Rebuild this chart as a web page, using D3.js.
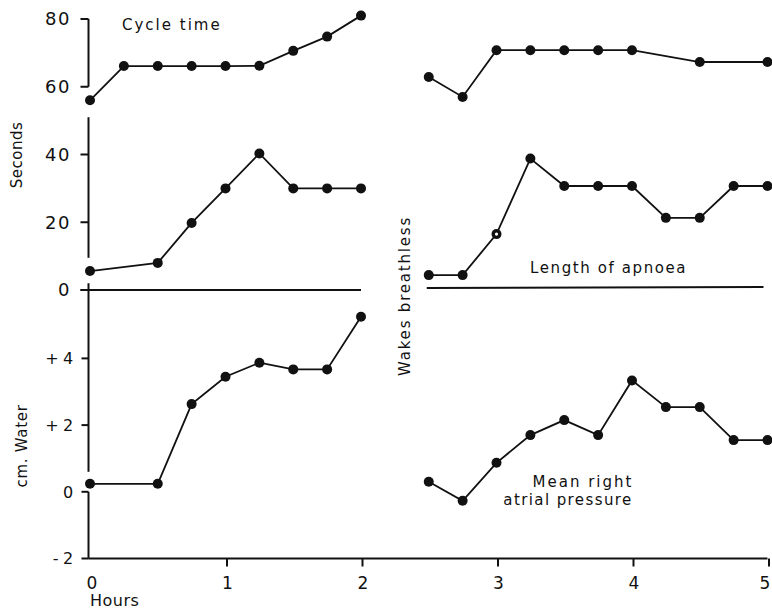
<!DOCTYPE html>
<html>
<head>
<meta charset="utf-8">
<script src="https://cdn.jsdelivr.net/npm/d3@7"></script>
<style>
  body { margin: 0; background: #fff; }
  text { font-family: "DejaVu Sans", sans-serif; fill: #111; }
</style>
</head>
<body>
<div id="chart"></div>
<script>
// hours (quarter-hour readings)
const hoursLeft = [0, 0.25, 0.5, 0.75, 1, 1.25, 1.5, 1.75, 2]
const hoursRight = [2.5, 2.75, 3, 3.25, 3.5, 3.75, 4, 4.25, 4.5, 4.75, 5]

// cycle time, seconds
const cycleLeftHours = hoursLeft
const cycleLeft = [56, 66.1, 66.1, 66.1, 66.1, 66.2, 70.6, 74.8, 81]
const cycleRightHours = [2.5, 2.75, 3, 3.25, 3.5, 3.75, 4, 4.5, 5]
const cycleRight = [62.9, 57, 70.8, 70.8, 70.8, 70.8, 70.8, 67.3, 67.3]

// length of apnoea, seconds
const apnoeaLeftHours = [0, 0.5, 0.75, 1, 1.25, 1.5, 1.75, 2]
const apnoeaLeft = [5.6, 8, 19.8, 30, 40.3, 30, 30, 30]
const apnoeaRight = [4.4, 4.4, 16.5, 38.8, 30.7, 30.7, 30.7, 21.3, 21.3, 30.7, 30.7]

// mean right atrial pressure, cm water
const pressureLeftHours = [0, 0.5, 0.75, 1, 1.25, 1.5, 1.75, 2]
const pressureLeft = [0.24, 0.24, 2.63, 3.45, 3.87, 3.67, 3.67, 5.25]
const pressureRight = [0.3, -0.27, 0.87, 1.7, 2.15, 1.7, 3.34, 2.54, 2.54, 1.55, 1.55]

const secTicks = [0, 20, 40, 60, 80]
const cmTicks = [-2, 0, 2, 4]
const cmTickLabels = ["- 2", "0", "+ 2", "+ 4"]
const hourTicks = [0, 1, 2, 3, 4, 5]

let width = 772
let height = 612

let svg = d3.select("#chart")
            .append("svg")
                .attr("width", width)
                .attr("height", height)

let x = d3.scaleLinear().domain([0, 5]).range([90, 767.5])
let ySec = d3.scaleLinear().domain([0, 80]).range([290, 19])
let yCm = d3.scaleLinear().domain([-2, 4]).range([558.5, 358.4])

const ax = x(0) - 1.5
const ink = "#111"

function line(g, x1, y1, x2, y2, w) {
    g.append("line")
        .attr("x1", x1).attr("y1", y1)
        .attr("x2", x2).attr("y2", y2)
        .attr("stroke", ink)
        .attr("stroke-width", w || 2)
}

let axes = svg.append("g")

// seconds axis, drawn in broken segments as in the original
line(axes, ax, ySec(80), ax, ySec(60))
line(axes, ax, ySec(51), ax, ySec(9.5))
line(axes, ax, ySec(2), ax, yCm(0.6))
line(axes, ax, yCm(0), ax, yCm(-2))
secTicks.forEach(v => line(axes, ax - 8, ySec(v), ax, ySec(v)))
cmTicks.forEach(v => line(axes, ax - 7, yCm(v), ax, yCm(v)))

// zero lines for length of apnoea
line(axes, ax - 8, ySec(0), x(2), ySec(0))
line(axes, x(2.5) - 2, ySec(0.6), x(5) - 4, ySec(0.9))

// hours axis
line(axes, ax, yCm(-2), x(5), yCm(-2))
hourTicks.slice(1).forEach(h => line(axes, x(h) + 1.5, yCm(-2), x(h) + 1.5, yCm(-2) + 8))

// tick labels
axes.selectAll(".sec")
    .data(secTicks)
    .enter()
    .append("text")
        .attr("x", 71)
        .attr("y", d => ySec(d))
        .attr("dy", "0.36em")
        .attr("text-anchor", "end")
        .attr("font-size", "18px")
        .attr("letter-spacing", "1.5px")
        .text(d => d)

axes.selectAll(".cm")
    .data(cmTicks)
    .enter()
    .append("text")
        .attr("x", 73)
        .attr("y", d => yCm(d))
        .attr("dy", "0.36em")
        .attr("text-anchor", "end")
        .attr("font-size", "16px")
        .attr("letter-spacing", "-0.3px")
        .text((d, i) => cmTickLabels[i])

axes.selectAll(".hr")
    .data(hourTicks)
    .enter()
    .append("text")
        .attr("x", d => Math.min(x(d) + 2, 765))
        .attr("y", 583)
        .attr("dy", "0.36em")
        .attr("text-anchor", "middle")
        .attr("font-size", "17px")
        .text(d => d)

// axis titles and labels
svg.append("text")
    .attr("transform", "translate(17,155) rotate(-90)")
    .attr("text-anchor", "middle")
    .attr("dy", "0.36em")
    .attr("font-size", "15px")
    .attr("letter-spacing", "0.5px")
    .text("Seconds")

svg.append("text")
    .attr("transform", "translate(22,446) rotate(-90)")
    .attr("text-anchor", "middle")
    .attr("dy", "0.36em")
    .attr("font-size", "15px")
    .attr("letter-spacing", "0.7px")
    .text("cm. Water")

svg.append("text")
    .attr("transform", "translate(405,296) rotate(-90)")
    .attr("text-anchor", "middle")
    .attr("dy", "0.36em")
    .attr("font-size", "15px")
    .attr("letter-spacing", "1.8px")
    .text("Wakes breathless")

svg.append("text")
    .attr("x", 90).attr("y", 600).attr("dy", "0.36em")
    .attr("font-size", "16px")
    .attr("letter-spacing", "0.5px")
    .text("Hours")

svg.append("text")
    .attr("x", 122).attr("y", 25).attr("dy", "0.36em")
    .attr("font-size", "15px")
    .attr("letter-spacing", "2px")
    .text("Cycle time")

svg.append("text")
    .attr("x", 530).attr("y", 268).attr("dy", "0.36em")
    .attr("font-size", "15px")
    .attr("letter-spacing", "1.6px")
    .text("Length of apnoea")

svg.append("text")
    .attr("x", 583).attr("y", 482).attr("dy", "0.36em")
    .attr("text-anchor", "middle")
    .attr("font-size", "15px")
    .attr("letter-spacing", "2px")
    .text("Mean right")

svg.append("text")
    .attr("x", 568).attr("y", 500).attr("dy", "0.36em")
    .attr("text-anchor", "middle")
    .attr("font-size", "15px")
    .attr("letter-spacing", "1.4px")
    .text("atrial pressure")

// series
function series(hours, values, y, hollow) {
    let pts = hours.map((h, i) => [h, values[i]])
    let path = d3.line().x(d => x(d[0])).y(d => y(d[1]))
    svg.append("path")
        .attr("d", path(pts))
        .attr("fill", "none")
        .attr("stroke", ink)
        .attr("stroke-width", 1.8)
    svg.append("g")
        .selectAll("circle")
        .data(pts)
        .enter()
        .append("circle")
            .attr("cx", d => x(d[0]))
            .attr("cy", d => y(d[1]))
            .attr("r", 5)
            .attr("fill", ink)
    if (hollow !== undefined) {
        let d = pts[hollow]
        svg.append("circle")
            .attr("cx", x(d[0]))
            .attr("cy", y(d[1]))
            .attr("r", 1.6)
            .attr("fill", "#fff")
    }
}

series(cycleLeftHours, cycleLeft, ySec)
series(cycleRightHours, cycleRight, ySec)
series(apnoeaLeftHours, apnoeaLeft, ySec)
series(hoursRight, apnoeaRight, ySec, 2)
series(pressureLeftHours, pressureLeft, yCm)
series(hoursRight, pressureRight, yCm)
</script>
</body>
</html>
